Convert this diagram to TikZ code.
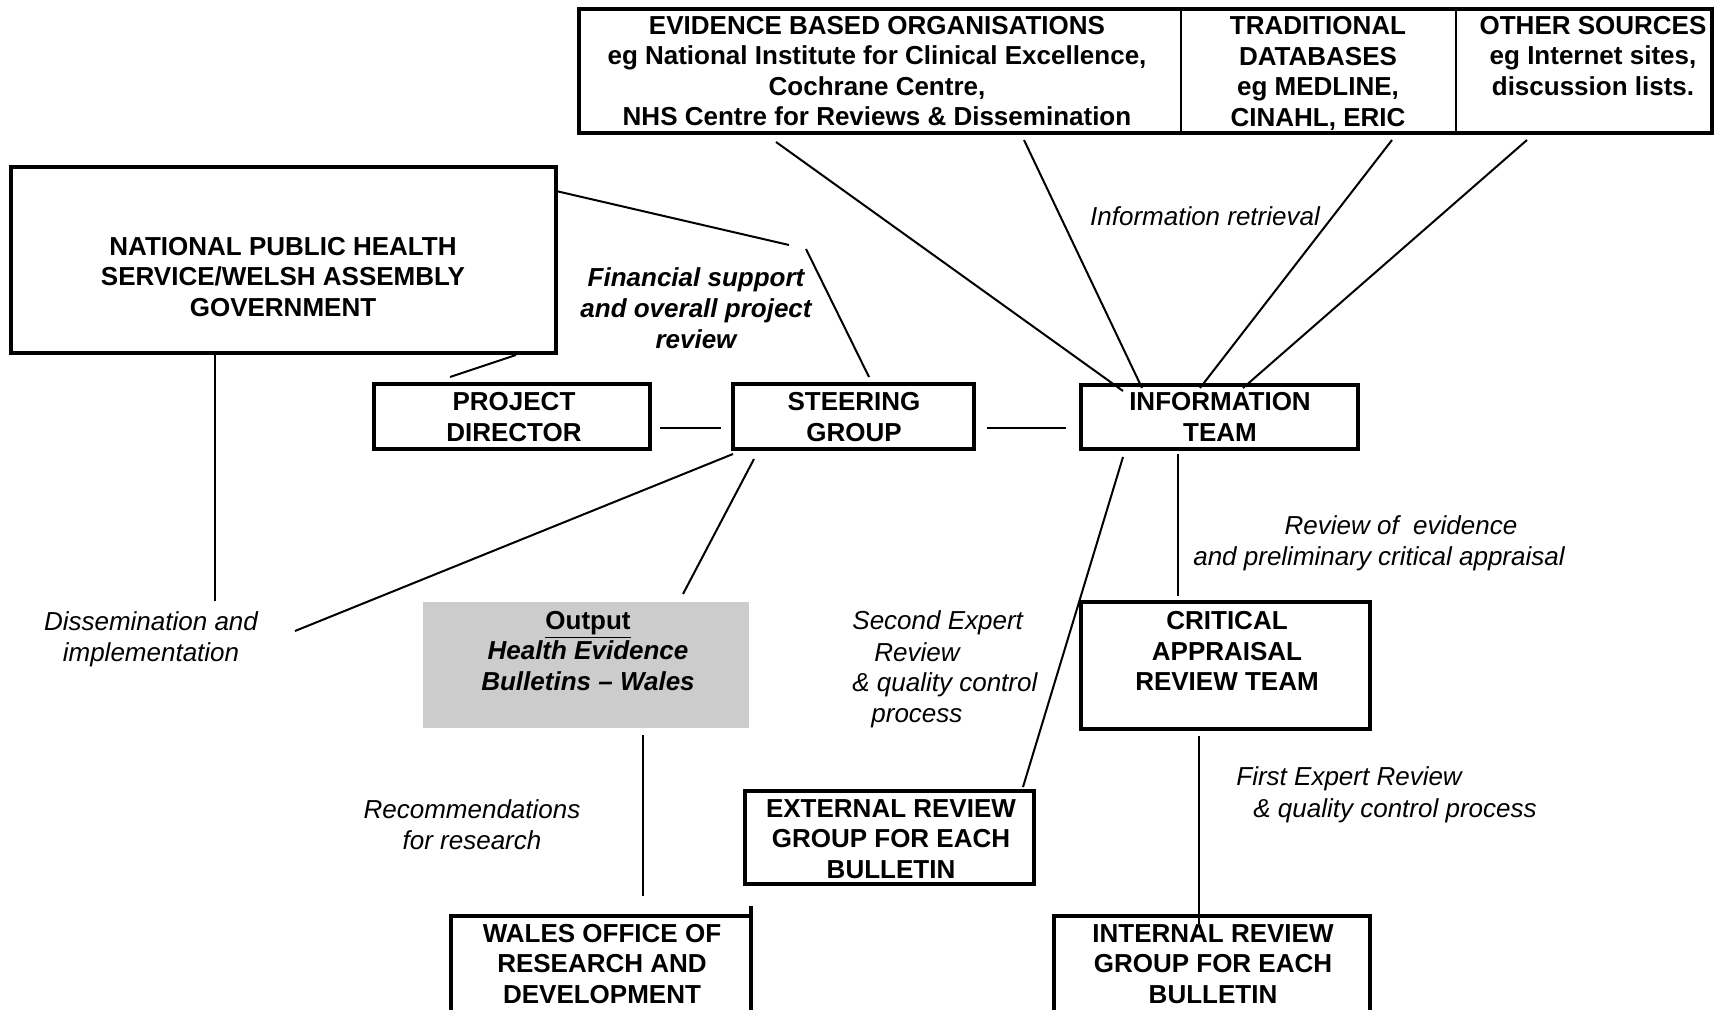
\documentclass[tikz,border=0pt]{standalone}
\usepackage{fontspec}
\setmainfont{Liberation Sans}
\begin{document}
\begin{tikzpicture}[x=0.5pt,y=-0.5pt,
  box/.style={draw, line width=1.7pt, inner sep=0pt, outer sep=0pt},
  thinbox/.style={draw, line width=1.1pt, inner sep=0pt, outer sep=0pt},
  btxt/.style={font=\fontsize{13}{15.3}\selectfont\bfseries, align=center, inner sep=0pt},
  ltxt/.style={font=\fontsize{13}{15.5}\selectfont\itshape, align=center, inner sep=0pt},
  bltxt/.style={font=\fontsize{13}{15.5}\selectfont\bfseries\itshape, align=center, inner sep=0pt},
  conn/.style={line width=1pt}]
\useasboundingbox (0,0) rectangle (1714,1010);

% ---- top source boxes ----
\node[thinbox, minimum width=301pt, minimum height=62pt] (evid) at (880,71) {};
\node[thinbox, minimum width=137.5pt, minimum height=62pt] (trad) at (1318.5,71) {};
\node[thinbox, minimum width=128pt, minimum height=62pt] (other) at (1584,71) {};
\draw[line width=2.4pt] (evid.north west) rectangle (other.south east);
\node[btxt] (evidT) at (877,71) {EVIDENCE BASED ORGANISATIONS\\eg National Institute for Clinical Excellence,\\Cochrane Centre,\\NHS Centre for Reviews \& Dissemination};
\node[btxt] (tradT) at (1318,73.5) {TRADITIONAL\\DATABASES\\eg MEDLINE,\\CINAHL, ERIC};
\node[btxt] (otherT) at (1593,56) {OTHER SOURCES\\eg Internet sites,\\discussion lists.};

% ---- main boxes ----
\node[box, minimum width=272.5pt, minimum height=93pt] (nat) at (283.5,260) {};
\node[btxt] (natT) at (283,277) {NATIONAL PUBLIC HEALTH\\SERVICE/WELSH ASSEMBLY\\GOVERNMENT};

\node[box, minimum width=138pt, minimum height=32.5pt] (pd) at (512,416.5) {};
\node[btxt] (pdT) at (514,417) {PROJECT\\DIRECTOR};

\node[box, minimum width=120.5pt, minimum height=32.5pt] (sg) at (853.5,416.5) {};
\node[btxt] (sgT) at (854,417) {STEERING\\GROUP};

\node[box, minimum width=138.5pt, minimum height=32pt] (it) at (1219.5,417) {};
\node[btxt] (itT) at (1220,417) {INFORMATION\\TEAM};

\node[box, minimum width=144.5pt, minimum height=63.5pt] (crit) at (1225.5,665.5) {};
\node[btxt] (critT) at (1227,651) {CRITICAL\\APPRAISAL\\REVIEW TEAM};

\node[fill=black!20, inner sep=0pt, outer sep=0pt, minimum width=163pt, minimum height=63pt] (out) at (586,665) {};
\node[btxt] (outT) at (588,651) {\underline{Output}\\\textit{Health Evidence}\\\textit{Bulletins -- Wales}};

\node[box, minimum width=144.5pt, minimum height=46.5pt] (ext) at (889.5,837.5) {};
\node[btxt] (extT) at (891,839) {EXTERNAL REVIEW\\GROUP FOR EACH\\BULLETIN};

\node[box, minimum width=150pt, minimum height=62pt] (wales) at (601,978) {};
\node[btxt] (walesT) at (602,964) {WALES OFFICE OF\\RESEARCH AND\\DEVELOPMENT};
\coordinate (walesTop) at (751,906);
\draw[line width=1.7pt] (walesTop) -- (wales.north east);

\node[box, minimum width=158pt, minimum height=62pt] (intern) at (1212,978) {};
\node[btxt] (internT) at (1213,964) {INTERNAL REVIEW\\GROUP FOR EACH\\BULLETIN};

% ---- labels ----
\node[ltxt] (lInfo) at (1205,216) {Information retrieval};
\node[bltxt] (lFin) at (696,308) {Financial support\\and overall project\\review};
\node[ltxt, anchor=base] (lRev1) at (1401,535) {Review of \ evidence};
\node[ltxt, anchor=base] (lRev2) at (1379,566) {and preliminary critical appraisal};
\node[ltxt] (lDiss) at (151,639) {Dissemination and\\implementation};
\node[ltxt, anchor=base west] (lSec1) at (852,629) {Second Expert};
\node[ltxt, anchor=base west] (lSec2) at (874,661) {Review};
\node[ltxt, anchor=base west] (lSec3) at (852,691) {\& quality control};
\node[ltxt, anchor=base west] (lSec4) at (871,722) {process};
\node[ltxt] (lRec) at (472,825) {Recommendations\\for research};
\node[ltxt, anchor=base west] (lFirst1) at (1236,785) {First Expert Review};
\node[ltxt, anchor=base west] (lFirst2) at (1253,817) {\& quality control process};

% ---- connector end points ----
\coordinate (a1) at (556,191);  \coordinate (a2) at (789,245);
\coordinate (b1) at (806,249);  \coordinate (b2) at (869,377);
\coordinate (c1) at (516,355);  \coordinate (c2) at (450,377);
\coordinate (d1) at (660,428);  \coordinate (d2) at (721,428);
\coordinate (e1) at (987,428);  \coordinate (e2) at (1066,428);
\coordinate (f1) at (215,355);  \coordinate (f2) at (215,601);
\coordinate (g1) at (733,454);  \coordinate (g2) at (295,631);
\coordinate (h1) at (754,459);  \coordinate (h2) at (683,594);
\coordinate (i1) at (776,142);  \coordinate (i2) at (1123,391);
\coordinate (j1) at (1024,140); \coordinate (j2) at (1142,388);
\coordinate (k1) at (1392,140); \coordinate (k2) at (1200,388);
\coordinate (l1) at (1527,140); \coordinate (l2) at (1243,388);
\coordinate (m1) at (1123,457); \coordinate (m2) at (1023,787);
\coordinate (n1) at (1178,454); \coordinate (n2) at (1178,596);
\coordinate (o1) at (1199,736); \coordinate (o2) at (1199,924);
\coordinate (p1) at (643,735);  \coordinate (p2) at (643,896);

\draw[conn] (a1) -- (a2);
\draw[conn] (b1) -- (b2);
\draw[conn] (c1) -- (c2);
\draw[conn] (d1) -- (d2);
\draw[conn] (e1) -- (e2);
\draw[conn] (f1) -- (f2);
\draw[conn] (g1) -- (g2);
\draw[conn] (h1) -- (h2);
\draw[conn] (i1) -- (i2);
\draw[conn] (j1) -- (j2);
\draw[conn] (k1) -- (k2);
\draw[conn] (l1) -- (l2);
\draw[conn] (m1) -- (m2);
\draw[conn] (n1) -- (n2);
\draw[conn] (o1) -- (o2);
\draw[conn] (p1) -- (p2);
\end{tikzpicture}
\end{document}
